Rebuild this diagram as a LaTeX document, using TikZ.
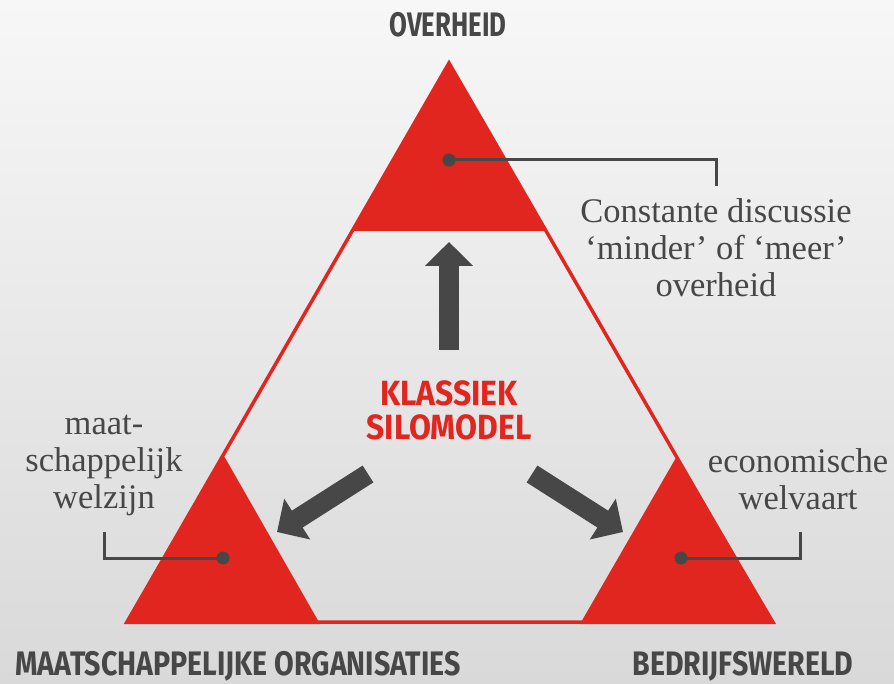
\documentclass[tikz,border=0pt]{standalone}
\usepackage{fontspec}
\setmainfont{Liberation Serif}
\newfontfamily\headfont{Fira Sans}
\usetikzlibrary{arrows.meta}
\definecolor{silored}{HTML}{E1251F}
\definecolor{darkgr}{HTML}{474747}
\definecolor{bgtop}{HTML}{F7F7F7}
\definecolor{bgbot}{HTML}{D9D9D9}
\tikzset{
  headtxt/.style={text=darkgr, font=\headfont\bfseries\fontsize{34}{34}\selectfont, inner sep=0pt},
  centertxt/.style={text=silored, font=\headfont\bfseries\fontsize{35}{35}\selectfont, inner sep=0pt},
  labeltxt/.style={text=darkgr, font=\fontsize{34.5}{37}\selectfont, align=center, inner sep=0pt},
  dot/.style={circle, fill=darkgr, minimum size=13pt, inner sep=0pt},
  leader/.style={draw=darkgr, line width=3pt},
  bigarrow/.style={draw=darkgr, line width=20pt, -{Triangle[width=47pt,length=24pt]}},
  corner/.style={fill=silored},
}
\newcommand{\hsq}[2]{\scalebox{#1}[1]{#2}}
\begin{document}
\begin{tikzpicture}[x=1pt,y=-1pt]
\shade[top color=bgtop, bottom color=bgbot] (0,0) rectangle (894,684);
\useasboundingbox (0,0) rectangle (894,684);
% outer triangle
\coordinate (A) at (449,63);
\coordinate (B) at (127,622);
\coordinate (C) at (772,622);
\draw[silored, line width=3.5pt, line join=miter] (A) -- (B) -- (C) -- cycle;
% corner triangles
\fill[corner] (449,61) -- (352,231) -- (546,231) -- cycle;
\fill[corner] (224,456) -- (124,624) -- (320,624) -- cycle;
\fill[corner] (677,456) -- (580,624) -- (776,624) -- cycle;
% arrows
\coordinate (upT) at (449,350);
\coordinate (upH) at (449,242);
\coordinate (lT) at (368,474);
\coordinate (lH) at (277,532);
\coordinate (rT) at (532,474);
\coordinate (rH) at (623,532);
\draw[bigarrow] (upT) -- (upH);
\draw[bigarrow] (lT) -- (lH);
\draw[bigarrow] (rT) -- (rH);
% dots and leaders
\node[dot] (d1) at (449,160) {};
\node[dot] (d2) at (223,558) {};
\node[dot] (d3) at (681,558) {};
\coordinate (e1) at (716,186);
\coordinate (e2) at (104,532);
\coordinate (e3) at (800,532);
\draw[leader] (d1.center) -| (e1);
\draw[leader] (d2.center) -| (e2);
\draw[leader] (d3.center) -| (e3);
% texts
\node[headtxt] (t1) at (448,25) {\hsq{0.76}{OVERHEID}};
\node[headtxt] (t2) at (238,666) {\hsq{0.84}{MAATSCHAPPELIJKE ORGANISATIES}};
\node[headtxt] (t3) at (743,666) {\hsq{0.84}{BEDRIJFSWERELD}};
\node[centertxt] (c1) at (449,393) {\hsq{0.91}{KLASSIEK}};
\node[centertxt] (c2) at (449,427) {\hsq{0.91}{SILOMODEL}};
\node[labeltxt] (l1) at (716,248) {Constante discussie\\‘minder’ of ‘meer’\\overheid};
\node[labeltxt] (l2) at (104,465) {maat-\\schappelijk\\welzijn};
\node[labeltxt] (l3) at (798,479) {economische\\welvaart};
\end{tikzpicture}
\end{document}
